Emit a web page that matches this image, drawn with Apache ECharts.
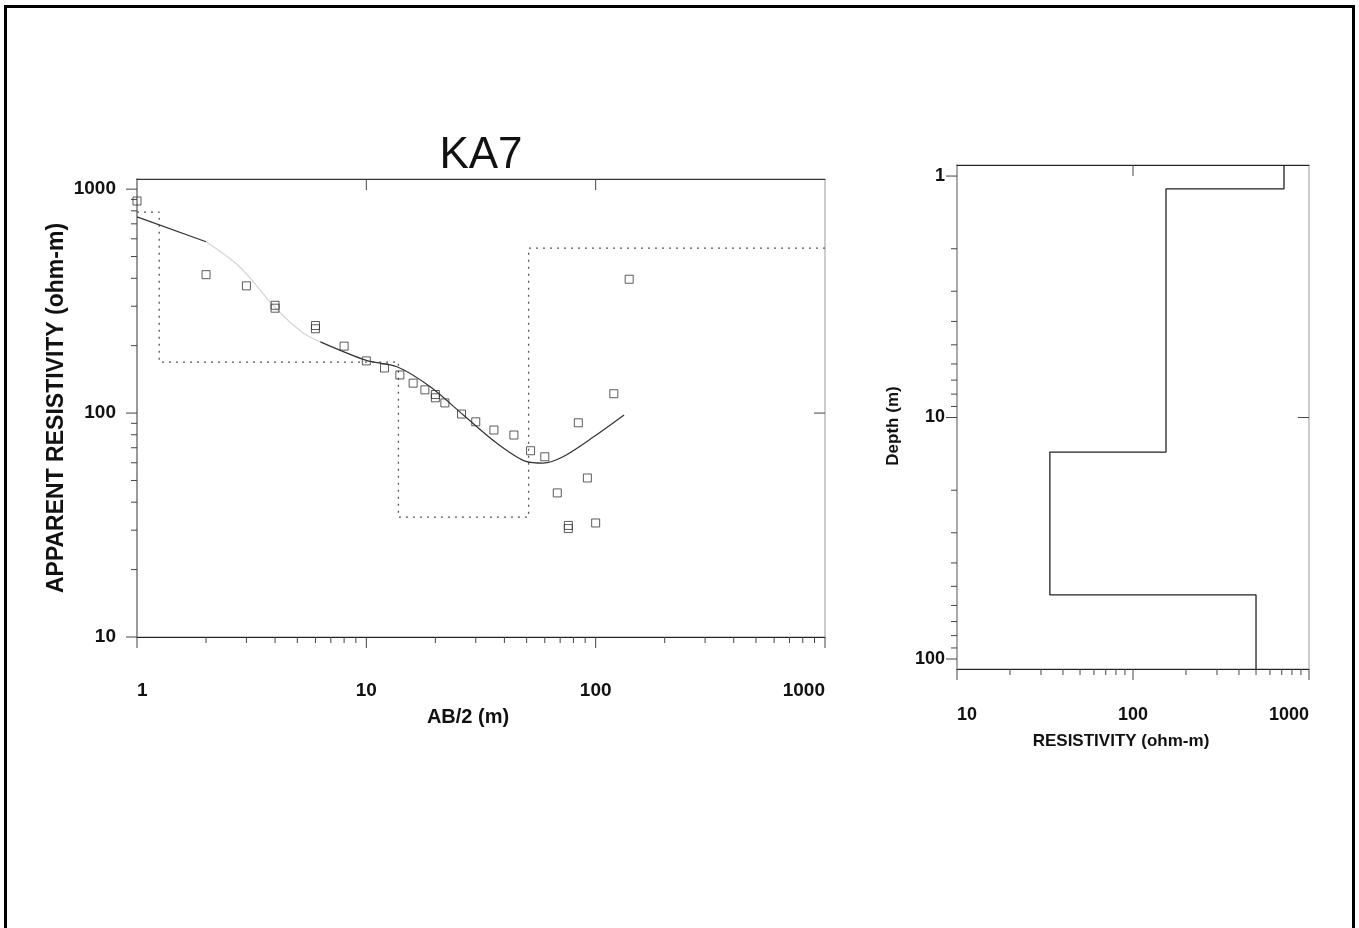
<!DOCTYPE html>
<html>
<head>
<meta charset="utf-8">
<title>KA7</title>
<script src="https://cdn.jsdelivr.net/npm/echarts@6/dist/echarts.min.js"></script>
<style>
html, body { margin: 0; padding: 0; background: #fff; }
#chart { width: 1359px; height: 928px; }
</style>
</head>
<body>
<div id="chart"></div>
<script>
// field readings: AB/2 (m) and apparent resistivity (ohm-m)
var abHalf = [1, 2, 3, 4, 4, 6, 6, 8, 10, 12, 14, 16, 18, 20, 20, 22, 26, 30, 36, 44, 52, 60, 68, 76, 76, 84, 92, 100, 120, 140];
var rhoApp = [885, 415, 370, 303, 294, 246, 238, 199, 171, 159, 148, 136, 127, 121, 117, 111, 99, 91.4, 84, 79.8, 67.9, 63.8, 44, 31.5, 30.5, 90.5, 51.3, 32.3, 122, 396];

// computed (fitted) sounding curve
var fitAB  = [1, 2, 2.8, 4.1, 5.3, 6.3, 10, 13.6, 19, 26.5, 37, 50, 59, 72, 98, 133];
var fitRho = [752, 582, 450, 288, 228, 208, 172, 161, 131, 98, 73.5, 60.7, 59.8, 63.8, 78.3, 98];

// layer model drawn on the sounding plot (dotted)
var modelAB  = [1.25, 13.8, 51];
var modelRho = [790, 169, 34.3, 545];

// layer model on the depth plot
var layerDepth = [1.13, 13.9, 54.3];
var layerRho   = [721, 154, 33.7, 500];

var decadeSteps = [1, 2, 3, 4, 5, 6, 7, 8, 9];

function logTicks(from, to) {
  var out = [];
  for (var p = from; p < to; p *= 10) {
    decadeSteps.forEach(function (m) { out.push(m * p); });
  }
  out.push(to);
  return out;
}
function isMajor(v) {
  var l = Math.log10(v);
  return Math.abs(l - Math.round(l)) < 1e-9;
}
function stepPoints(bounds, rhos, start, end, horizontalDepth) {
  // builds the corner points of a layer staircase
  var pts = [];
  var edges = [start].concat(bounds, [end]);
  for (var i = 0; i < rhos.length; i++) {
    if (horizontalDepth) {
      pts.push([edges[i], rhos[i]], [edges[i + 1], rhos[i]]);
    } else {
      pts.push([rhos[i], edges[i]], [rhos[i], edges[i + 1]]);
    }
  }
  return pts;
}

// tick marks: [x, y, side]  side 0 bottom(out) 1 left(out) 2 top(in) 3 right(in)
var leftTicks = [];
logTicks(1, 1000).forEach(function (v) { leftTicks.push([v, 100, 0]); });
logTicks(10, 1000).forEach(function (v) { leftTicks.push([10, v, 1]); });
[10, 100].forEach(function (v) { leftTicks.push([v, 100, 2]); });
leftTicks.push([10, 100, 3]);

var rightTicks = [];
logTicks(10, 1000).forEach(function (v) { rightTicks.push([v, 10, 0]); });
logTicks(1, 100).forEach(function (v) { rightTicks.push([100, v, 1]); });
rightTicks.push([100, 10, 2]);
rightTicks.push([100, 10, 3]);

function renderTick(params, api) {
  var side = api.value(2);
  var v = (side === 0 || side === 2) ? api.value(0) : api.value(1);
  var p = api.coord([api.value(0), api.value(1)]);
  var cs = params.coordSys;
  var len = isMajor(v) ? 11 : 6;
  var s;
  if (side === 0) s = { x1: p[0], y1: cs.y + cs.height, x2: p[0], y2: cs.y + cs.height + len };
  else if (side === 1) s = { x1: cs.x - len, y1: p[1], x2: cs.x, y2: p[1] };
  else if (side === 2) s = { x1: p[0], y1: cs.y, x2: p[0], y2: cs.y + len };
  else s = { x1: cs.x + cs.width - len, y1: p[1], x2: cs.x + cs.width, y2: p[1] };
  return { type: 'line', shape: s, style: { stroke: '#444', lineWidth: 1 } };
}

var fontFam = '"Liberation Sans", Arial, sans-serif';
function fmt(v) { return String(+v.toPrecision(6)); }

var fitPairs = fitAB.map(function (x, i) { return [x, fitRho[i]]; });

var chart = echarts.init(document.getElementById('chart'));
var option = {
  backgroundColor: '#fff',
  animation: false,
  grid: [
    { left: 137, top: 179, width: 688, height: 458, show: true, borderColor: '#999', borderWidth: 1 },
    { left: 957, top: 165, width: 352, height: 504, show: true, borderColor: '#999', borderWidth: 1 }
  ],
  xAxis: [
    {
      type: 'log', logBase: 10, gridIndex: 0, min: 1, max: 1000,
      axisLine: { show: true, lineStyle: { color: '#222', width: 1 } },
      axisTick: { show: false }, splitLine: { show: false },
      axisLabel: {
        margin: 44, color: '#111', fontSize: 19, fontWeight: 'bold', fontFamily: fontFam,
        formatter: fmt, alignMinLabel: 'left', alignMaxLabel: 'right'
      }
    },
    {
      type: 'log', logBase: 10, gridIndex: 0, min: 1, max: 1000, position: 'top',
      axisLine: { show: true, lineStyle: { color: '#333', width: 1 } },
      axisTick: { show: false }, axisLabel: { show: false }, splitLine: { show: false }
    },
    {
      type: 'log', logBase: 10, gridIndex: 1, min: 10, max: 1000,
      axisLine: { show: true, lineStyle: { color: '#222', width: 1 } },
      axisTick: { show: false }, splitLine: { show: false },
      axisLabel: {
        margin: 37, color: '#111', fontSize: 18, fontWeight: 'bold', fontFamily: fontFam,
        formatter: fmt, alignMinLabel: 'left', alignMaxLabel: 'right'
      }
    },
    {
      type: 'log', logBase: 10, gridIndex: 1, min: 10, max: 1000, position: 'top',
      axisLine: { show: true, lineStyle: { color: '#222', width: 1 } },
      axisTick: { show: false }, axisLabel: { show: false }, splitLine: { show: false }
    }
  ],
  yAxis: [
    {
      type: 'log', logBase: 10, gridIndex: 0, min: 10, max: 1110,
      axisLine: { show: true, lineStyle: { color: '#999', width: 2 } },
      axisTick: { show: false }, splitLine: { show: false },
      axisLabel: {
        margin: 21, color: '#111', fontSize: 19, fontWeight: 'bold', fontFamily: fontFam,
        formatter: fmt, showMaxLabel: false
      }
    },
    {
      type: 'log', logBase: 10, gridIndex: 1, min: 0.9, max: 110, inverse: true,
      axisLine: { show: true, lineStyle: { color: '#aaa', width: 2 } },
      axisTick: { show: false }, splitLine: { show: false },
      axisLabel: {
        margin: 12, color: '#111', fontSize: 18, fontWeight: 'bold', fontFamily: fontFam,
        formatter: fmt, showMaxLabel: false, showMinLabel: false
      }
    }
  ],
  series: [
    {
      name: 'model (AB/2)', type: 'line', xAxisIndex: 0, yAxisIndex: 0,
      data: stepPoints(modelAB, modelRho, 1, 1000, true),
      showSymbol: false, symbol: 'none', z: 2,
      lineStyle: { color: '#555', width: 1.3, type: [2, 5] }
    },
    {
      name: 'fit', type: 'line', xAxisIndex: 0, yAxisIndex: 0,
      data: fitPairs.slice(0, 2), symbol: 'none', smooth: 0.3, z: 3,
      lineStyle: { color: '#333', width: 1.2 }
    },
    {
      name: 'fit faint', type: 'line', xAxisIndex: 0, yAxisIndex: 0,
      data: fitPairs.slice(1, 6), symbol: 'none', smooth: 0.3, z: 3,
      lineStyle: { color: '#d4d4d4', width: 1.2 }
    },
    {
      name: 'fit', type: 'line', xAxisIndex: 0, yAxisIndex: 0,
      data: fitPairs.slice(5), symbol: 'none', smooth: 0.3, z: 3,
      lineStyle: { color: '#333', width: 1.2 }
    },
    {
      name: 'observed', type: 'scatter', xAxisIndex: 0, yAxisIndex: 0,
      data: abHalf.map(function (x, i) { return [x, rhoApp[i]]; }),
      symbol: 'rect', symbolSize: 8, z: 4,
      itemStyle: { color: 'rgba(255,255,255,0)', borderColor: '#333', borderWidth: 1 }
    },
    {
      name: 'layers', type: 'line', xAxisIndex: 2, yAxisIndex: 1,
      data: stepPoints(layerDepth, layerRho, 0.9, 110, false),
      symbol: 'none', z: 3,
      lineStyle: { color: '#222', width: 1.3 }
    },
    {
      type: 'custom', xAxisIndex: 0, yAxisIndex: 0, data: leftTicks,
      renderItem: renderTick, silent: true, z: 1
    },
    {
      type: 'custom', xAxisIndex: 2, yAxisIndex: 1, data: rightTicks,
      renderItem: renderTick, silent: true, z: 1
    }
  ],
  graphic: [
    { type: 'rect', shape: { x: 4, y: 5, width: 3, height: 923 }, style: { fill: '#000' } },
    { type: 'rect', shape: { x: 4, y: 5, width: 1351, height: 3 }, style: { fill: '#000' } },
    { type: 'rect', shape: { x: 1352, y: 5, width: 3, height: 923 }, style: { fill: '#000' } },
    { type: 'text', x: 481, y: 156,
      style: { text: 'KA7', fontSize: 44, fontFamily: fontFam, fill: '#111', align: 'center', verticalAlign: 'middle' } },
    { type: 'text', x: 57, y: 408, rotation: Math.PI / 2,
      style: { text: 'APPARENT RESISTIVITY (ohm-m)', fontSize: 23, fontWeight: 'bold', fontFamily: fontFam, fill: '#111', align: 'center', verticalAlign: 'middle' } },
    { type: 'text', x: 468, y: 717,
      style: { text: 'AB/2 (m)', fontSize: 20, fontWeight: 'bold', fontFamily: fontFam, fill: '#111', align: 'center', verticalAlign: 'middle' } },
    { type: 'text', x: 893, y: 426, rotation: Math.PI / 2,
      style: { text: 'Depth (m)', fontSize: 17, fontWeight: 'bold', fontFamily: fontFam, fill: '#111', align: 'center', verticalAlign: 'middle' } },
    { type: 'text', x: 1121, y: 741,
      style: { text: 'RESISTIVITY (ohm-m)', fontSize: 17, fontWeight: 'bold', fontFamily: fontFam, fill: '#111', align: 'center', verticalAlign: 'middle' } }
  ]
};
chart.setOption(option);
</script>
</body>
</html>
